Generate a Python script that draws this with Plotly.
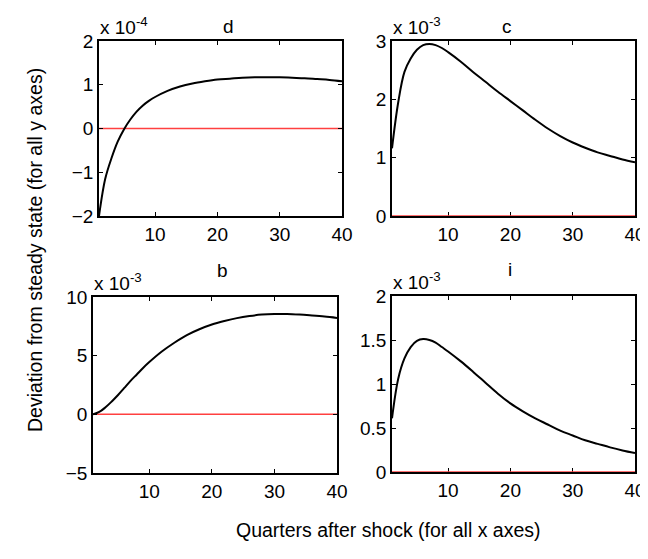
import plotly.graph_objects as go

# quarters
q = [1, 2, 3, 4, 5, 6, 7, 8, 9, 10, 12, 14, 16, 18, 20, 22, 24, 26, 28, 30, 32, 34, 36, 38, 40]

# d (x 1e-4)
d = [-2.0, -1.15, -0.68, -0.3, -0.02, 0.2, 0.38, 0.52, 0.63, 0.72, 0.86, 0.96, 1.03, 1.08, 1.12,
     1.14, 1.16, 1.17, 1.17, 1.17, 1.16, 1.15, 1.13, 1.11, 1.08]
# c (x 1e-3)
c = [1.16, 1.95, 2.47, 2.7, 2.85, 2.93, 2.95, 2.93, 2.88, 2.81, 2.65, 2.47, 2.3, 2.13, 1.97,
     1.81, 1.65, 1.5, 1.37, 1.26, 1.17, 1.09, 1.03, 0.97, 0.92]
# b (x 1e-3)
b = [0.0, 0.2, 0.6, 1.1, 1.65, 2.25, 2.85, 3.4, 3.95, 4.45, 5.35, 6.1, 6.75, 7.25, 7.65,
     7.95, 8.2, 8.38, 8.5, 8.55, 8.55, 8.5, 8.42, 8.33, 8.22]
# i (x 1e-3)
i_ = [0.61, 1.06, 1.29, 1.42, 1.49, 1.51, 1.5, 1.47, 1.42, 1.37, 1.26, 1.14, 1.015, 0.89, 0.78,
      0.69, 0.61, 0.54, 0.47, 0.415, 0.36, 0.32, 0.28, 0.245, 0.215]

panels = [
    ("d", d, "-4", [-2, 2], [-2, -1, 0, 1, 2], ["\u22122", "\u22121", "0", "1", "2"]),
    ("c", c, "-3", [0, 3], [0, 1, 2, 3], ["0", "1", "2", "3"]),
    ("b", b, "-3", [-5, 10], [-5, 0, 5, 10], ["\u22125", "0", "5", "10"]),
    ("i", i_, "-3", [0, 2], [0, 0.5, 1, 1.5, 2], ["0", "0.5", "1", "1.5", "2"]),
]

OFF = 8  # page body margin
W, H = 648 - OFF, 559 - 2 * OFF
# pixel boxes in the picture: left, right, top, bottom
boxes = [(99, 342, 41, 216), (392, 635, 41, 216), (93, 337, 297, 473), (392, 635, 296, 472)]


def px(x):
    return (x - OFF) / W


def py(y):
    return 1 - (y - OFF) / H


font = "Liberation Sans, Arial, sans-serif"
fig = go.Figure()
layout = {}
for k, (name, vals, ex, yr, yt, ytl) in enumerate(panels):
    n = "" if k == 0 else str(k + 1)
    l, r, t, bt = boxes[k]
    xa = "x" + n
    ya = "y" + n
    fig.add_trace(go.Scatter(x=[1, 40], y=[0, 0], mode="lines", line=dict(color="#ff4040", width=1.5),
                             xaxis=xa, yaxis=ya, showlegend=False, cliponaxis=False))
    fig.add_trace(go.Scatter(x=q, y=vals, mode="lines", line=dict(color="black", width=2, shape="spline"),
                             xaxis=xa, yaxis=ya, showlegend=False))
    common = dict(showline=True, linecolor="black", linewidth=1.5, mirror="allticks", ticks="inside",
                  ticklen=4, tickcolor="black", showgrid=False, zeroline=False, automargin=False,
                  ticklabeloverflow="allow", tickfont=dict(family=font, size=19, color="black"))
    layout["xaxis" + n] = dict(domain=[px(l), px(r)], range=[1, 40], tickvals=[10, 20, 30, 40],
                               anchor=ya, layer="below traces", **common)
    layout["yaxis" + n] = dict(domain=[py(bt), py(t)], range=yr, tickvals=yt, ticktext=ytl,
                               anchor=xa, **common)
    fig.add_annotation(x=px((l + r) / 2), y=py(t - 27), xref="paper", yref="paper", text=name,
                       showarrow=False, font=dict(family=font, size=19, color="black"))
    fig.add_annotation(x=px(l - 1), y=py(t - 1), xref="paper", yref="paper", xanchor="left",
                       yanchor="bottom", text="x 10<sup>" + ex + "</sup>", showarrow=False,
                       font=dict(family=font, size=19, color="black"))

fig.add_annotation(x=px(22), y=py(250), xref="paper", yref="paper", text="Deviation from steady state (for all y axes)",
                   textangle=-90, showarrow=False, font=dict(family=font, size=19.5, color="black"))
fig.add_annotation(x=px(388), y=py(543), xref="paper", yref="paper", text="Quarters after shock (for all x axes)",
                   showarrow=False, font=dict(family=font, size=19.5, color="black"))

fig.update_layout(width=W, height=H, margin=dict(l=0, r=0, t=0, b=0), plot_bgcolor="white",
                  paper_bgcolor="white", **layout)
fig.write_html("out.html")
